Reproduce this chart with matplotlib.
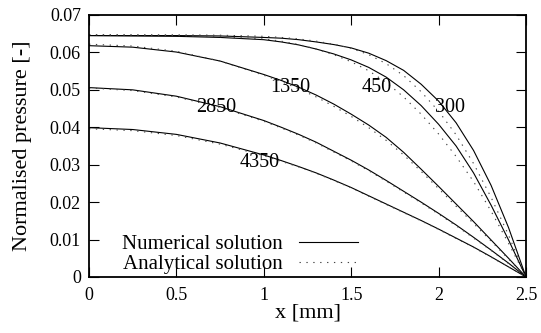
import numpy as np
import matplotlib.pyplot as plt
from matplotlib.ticker import FormatStrFormatter

plt.rcParams['font.family'] = ['Liberation Serif', 'DejaVu Serif']

# x positions [mm]
x_mm = [0, 0.25, 0.5, 0.75, 1.0, 1.1, 1.2, 1.3, 1.4, 1.5, 1.6, 1.7, 1.8, 1.9, 2.0, 2.1, 2.2, 2.3, 2.4, 2.5]

# numerical solution (solid)
num_300 = [0.0645, 0.0645, 0.0645, 0.0644, 0.0640, 0.0638, 0.0634, 0.0628, 0.0621, 0.0612,
           0.0598, 0.0578, 0.0552, 0.0515, 0.0470, 0.0412, 0.0338, 0.0245, 0.0132, 0.0]
num_450 = [0.0645, 0.0644, 0.0643, 0.0640, 0.0634, 0.0628, 0.0620, 0.0609, 0.0596, 0.0580,
           0.0560, 0.0534, 0.0500, 0.0458, 0.0408, 0.0350, 0.0278, 0.0192, 0.0099, 0.0]
num_1350 = [0.0618, 0.0614, 0.0601, 0.0577, 0.0541, 0.0525, 0.0507, 0.0486, 0.0462, 0.0435,
            0.0406, 0.0373, 0.0333, 0.0288, 0.0242, 0.0195, 0.0148, 0.0099, 0.0050, 0.0]
num_2850 = [0.0506, 0.0500, 0.0483, 0.0455, 0.0418, 0.0400, 0.0381, 0.0360, 0.0336, 0.0312,
            0.0286, 0.0258, 0.0229, 0.0200, 0.0170, 0.0139, 0.0106, 0.0072, 0.0037, 0.0]
num_4350 = [0.0399, 0.0394, 0.0381, 0.0358, 0.0326, 0.0311, 0.0295, 0.0278, 0.0259, 0.0239,
            0.0217, 0.0195, 0.0173, 0.0151, 0.0128, 0.0104, 0.0080, 0.0054, 0.0027, 0.0]

# analytical solution (dotted)
ana_300 = [0.0647, 0.0647, 0.0647, 0.0646, 0.0643, 0.0640, 0.0636, 0.0630, 0.0622, 0.0611,
           0.0594, 0.0570, 0.0538, 0.0495, 0.0443, 0.0380, 0.0303, 0.0213, 0.0112, 0.0]
ana_450 = [0.0647, 0.0646, 0.0645, 0.0642, 0.0636, 0.0630, 0.0621, 0.0609, 0.0594, 0.0575,
           0.0551, 0.0520, 0.0481, 0.0435, 0.0382, 0.0322, 0.0255, 0.0176, 0.0090, 0.0]
ana_1350 = [0.0622, 0.0617, 0.0603, 0.0577, 0.0539, 0.0522, 0.0503, 0.0481, 0.0456, 0.0429,
            0.0399, 0.0365, 0.0326, 0.0282, 0.0236, 0.0189, 0.0143, 0.0096, 0.0048, 0.0]
ana_2850 = [0.0505, 0.0498, 0.0481, 0.0453, 0.0416, 0.0398, 0.0379, 0.0358, 0.0334, 0.0310,
            0.0284, 0.0256, 0.0227, 0.0198, 0.0168, 0.0137, 0.0104, 0.0071, 0.0036, 0.0]
ana_4350 = [0.0396, 0.0391, 0.0378, 0.0355, 0.0324, 0.0309, 0.0294, 0.0277, 0.0258, 0.0238,
            0.0216, 0.0194, 0.0172, 0.0150, 0.0127, 0.0103, 0.0079, 0.0053, 0.0027, 0.0]

numerical = [num_300, num_450, num_1350, num_2850, num_4350]
analytical = [ana_300, ana_450, ana_1350, ana_2850, ana_4350]

# curve labels and where they sit
curve_labels = ['300', '450', '1350', '2850', '4350']
label_x = [2.065, 1.647, 1.15, 0.73, 0.978]
label_y = [0.0452, 0.0507, 0.0507, 0.0452, 0.0305]

fig = plt.figure(figsize=(5.41, 3.33), dpi=100)
ax = fig.add_axes([0.1645, 0.1682, 0.8078, 0.7868])

dots = (0, (1.2, 5))
for i in range(len(numerical)):
    ax.plot(x_mm, numerical[i], color='black', lw=0.8,
            label='Numerical solution' if i == 0 else None)
    ax.plot(x_mm, analytical[i], color='#444444', lw=0.8, linestyle=dots,
            label='Analytical solution' if i == 0 else None)

for t, lx, ly in zip(curve_labels, label_x, label_y):
    ax.text(lx, ly, t, fontsize=14.5, ha='center', va='center')

ax.set_xlim(0, 2.5)
ax.set_ylim(0, 0.07)
ax.set_xticks(np.arange(0, 2.51, 0.5))
ax.set_yticks(np.arange(0, 0.0701, 0.01))
ax.xaxis.set_major_formatter(FormatStrFormatter('%g'))
ax.yaxis.set_major_formatter(FormatStrFormatter('%g'))
ax.tick_params(direction='in', length=7.5, width=0.8, labelsize=13,
               top=True, right=True)
ax.tick_params(axis='x', pad=7)
ax.tick_params(axis='y', pad=5.8)
for s in ax.spines.values():
    s.set_linewidth(1.3)

ax.set_xlabel('x [mm]', fontsize=16, labelpad=0)
ax.set_ylabel('Normalised pressure [-]', fontsize=16, labelpad=13)

ax.legend(loc='lower left', bbox_to_anchor=(0.075, 0.012), frameon=False,
          markerfirst=False, fontsize=15, handlelength=2.8, handletextpad=0.8,
          labelspacing=0.0, borderpad=0, borderaxespad=0)

fig.savefig('out.png', dpi=100)
